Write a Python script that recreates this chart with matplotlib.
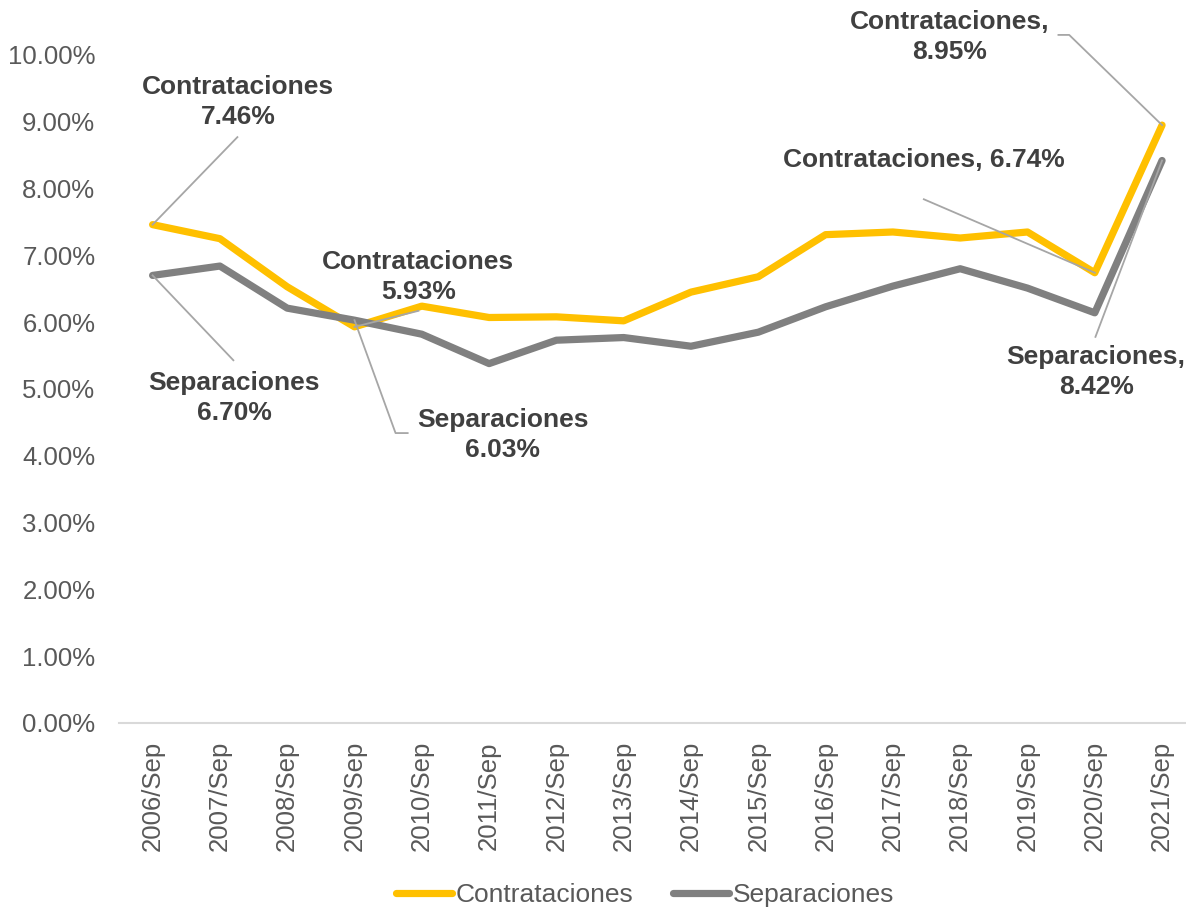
import matplotlib
matplotlib.use("Agg")
import matplotlib.pyplot as plt
from matplotlib.ticker import FuncFormatter

plt.rcParams['font.family'] = ['Liberation Sans', 'DejaVu Sans']

categories = ["2006/Sep", "2007/Sep", "2008/Sep", "2009/Sep", "2010/Sep", "2011/Sep",
              "2012/Sep", "2013/Sep", "2014/Sep", "2015/Sep", "2016/Sep", "2017/Sep",
              "2018/Sep", "2019/Sep", "2020/Sep", "2021/Sep"]
contrataciones = [7.46, 7.25, 6.53, 5.93, 6.24, 6.07, 6.08, 6.02, 6.45, 6.68,
                  7.31, 7.35, 7.26, 7.35, 6.74, 8.95]
separaciones = [6.70, 6.84, 6.21, 6.03, 5.82, 5.38, 5.73, 5.77, 5.64, 5.85,
                6.23, 6.54, 6.80, 6.51, 6.14, 8.42]

YELLOW = "#FFC000"
GRAY = "#808080"
TXT = "#404040"
TICK = "#595959"
LEAD = "#A6A6A6"

fig = plt.figure(figsize=(11.86, 9.10), dpi=100)
ax = fig.add_axes([0.1003, 0.2055, 0.9079, 0.7341])

x = list(range(len(categories)))
ax.plot(x, contrataciones, color=YELLOW, lw=5.2, solid_capstyle='round',
        solid_joinstyle='round', label="Contrataciones", zorder=3)
ax.plot(x, separaciones, color=GRAY, lw=5.2, solid_capstyle='round',
        solid_joinstyle='round', label="Separaciones", zorder=3)

ax.set_xlim(-0.5, len(categories) - 0.5)
ax.set_ylim(0, 10)
ax.set_yticks([i for i in range(11)])
ax.yaxis.set_major_formatter(FuncFormatter(lambda v, p: f"{v:.2f}%"))
ax.set_xticks(x)
ax.set_xticklabels(categories, rotation=90)
ax.tick_params(axis='y', length=0, pad=17, labelsize=18.5, labelcolor=TICK)
ax.tick_params(axis='x', length=0, pad=13, labelsize=18.5, labelcolor=TICK)
for s in ['top', 'right', 'left']:
    ax.spines[s].set_visible(False)
ax.spines['bottom'].set_color("#D9D9D9")
ax.spines['bottom'].set_linewidth(1.5)

# annotations: (text, text center, leader line points)
annots = [
    ("Contrataciones\n7.46%", (1.27, 9.30), [(0, contrataciones[0]), (1.26, 8.77)]),
    ("Separaciones\n6.70%", (1.21, 4.87), [(0, separaciones[0]), (1.20, 5.43)]),
    ("Contrataciones\n5.93%", (3.95, 6.68), [(3, contrataciones[3]), (3.95, 6.17)]),
    ("Separaciones\n6.03%", (5.20, 4.31), [(3, separaciones[3]), (3.61, 4.34), (3.79, 4.34)]),
    ("Contrataciones, 6.74%", (11.46, 8.43), [(14, contrataciones[14]), (11.46, 7.84)]),
    ("Contrataciones,\n8.95%", (11.84, 10.27), [(15, contrataciones[15]), (13.62, 10.30), (13.46, 10.30)]),
    ("Separaciones,\n8.42%", (14.02, 5.25), [(15, separaciones[15]), (14.01, 5.78)]),
]
for txt, (tx, ty), pts in annots:
    ax.text(tx, ty, txt, ha='center', va='center', fontsize=19, fontweight='bold',
            color=TXT, linespacing=1.32, clip_on=False, zorder=5)
    ax.plot([p[0] for p in pts], [p[1] for p in pts], color=LEAD, lw=1.3,
            clip_on=False, zorder=4)

fig.legend(loc='center', bbox_to_anchor=(0.544, 1 - 895 / 910), ncol=2, frameon=False,
           fontsize=19, labelcolor=TICK, handlelength=2.1, handletextpad=0.15,
           columnspacing=1.5)

fig.savefig("out.png", dpi=100)
